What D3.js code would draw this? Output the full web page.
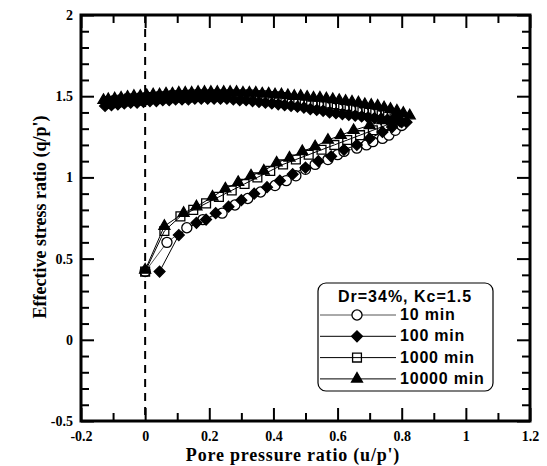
<!DOCTYPE html>
<html>
<head>
<meta charset="utf-8">
<script src="https://cdn.jsdelivr.net/npm/d3@7"></script>
<style>
  body { margin: 0; background: #fff; }
  svg { display: block; }
  .tick text { font-family: "Liberation Serif", "Times New Roman", serif; font-weight: bold; font-size: 14px; fill: #000; }
  .tick line { stroke: #000; stroke-width: 2; }
</style>
</head>
<body>
<div id="chart"></div>
<script>
// axis ticks
const xTicksMajor = [-0.2, 0, 0.2, 0.4, 0.6, 0.8, 1, 1.2];
const xTickLabels = ["-0.2", "0", "0.2", "0.4", "0.6", "0.8", "1", "1.2"];
const xTicksMinor = [-0.1, 0.1, 0.3, 0.5, 0.7, 0.9, 1.1];
const yTicksMajor = [-0.5, 0, 0.5, 1, 1.5, 2];
const yTickLabels = ["-0.5", "0", "0.5", "1", "1.5", "2"];
const yTicksMinor = [-0.4, -0.3, -0.2, -0.1, 0.1, 0.2, 0.3, 0.4, 0.6, 0.7, 0.8, 0.9,
                     1.1, 1.2, 1.3, 1.4, 1.6, 1.7, 1.8, 1.9];

// series: [u/p', q/p'] -- monotonic loading part, then the cyclic band near q/p' = 1.5
const min10 = [
  [0, 0.42], [0.068, 0.60], [0.13, 0.69], [0.18, 0.74], [0.24, 0.78], [0.28, 0.83], [0.32, 0.87],
  [0.36, 0.91], [0.405, 0.95], [0.44, 0.98], [0.47, 1.01], [0.50, 1.05], [0.53, 1.08], [0.57, 1.11],
  [0.60, 1.14], [0.62, 1.16], [0.66, 1.18], [0.69, 1.20], [0.71, 1.22], [0.74, 1.24], [0.76, 1.26],
  [0.78, 1.29], [0.80, 1.32],
  [0.80, 1.36], [0.78, 1.37], [0.76, 1.38], [0.74, 1.385], [0.72, 1.39], [0.70, 1.40], [0.68, 1.405],
  [0.66, 1.41], [0.64, 1.42], [0.62, 1.425], [0.60, 1.43], [0.58, 1.435], [0.56, 1.44], [0.54, 1.45],
  [0.52, 1.455], [0.50, 1.46], [0.48, 1.465], [0.46, 1.47], [0.44, 1.475], [0.42, 1.485], [0.40, 1.485],
  [0.38, 1.49], [0.36, 1.49], [0.34, 1.495], [0.32, 1.495], [0.30, 1.495], [0.28, 1.50], [0.26, 1.50],
  [0.24, 1.50], [0.22, 1.50], [0.20, 1.50], [0.18, 1.50], [0.16, 1.50], [0.14, 1.495], [0.12, 1.495],
  [0.10, 1.495], [0.08, 1.49], [0.06, 1.49], [0.04, 1.485], [0.02, 1.485], [0.00, 1.48], [-0.02, 1.475],
  [-0.04, 1.475], [-0.06, 1.47], [-0.08, 1.465], [-0.10, 1.46], [-0.12, 1.455]
];
const min100 = [
  [0.045, 0.42], [0.105, 0.645], [0.16, 0.72], [0.19, 0.74], [0.22, 0.78], [0.26, 0.82], [0.30, 0.86],
  [0.34, 0.90], [0.38, 0.94], [0.42, 0.98], [0.46, 1.02], [0.50, 1.06], [0.54, 1.10], [0.58, 1.13],
  [0.62, 1.17], [0.66, 1.20], [0.70, 1.24], [0.74, 1.28], [0.77, 1.31], [0.80, 1.34],
  [0.815, 1.34], [0.795, 1.345], [0.775, 1.35], [0.755, 1.355], [0.735, 1.36], [0.715, 1.365], [0.695, 1.37],
  [0.675, 1.375], [0.655, 1.38], [0.635, 1.385], [0.615, 1.39], [0.595, 1.395], [0.575, 1.40], [0.555, 1.41],
  [0.535, 1.415], [0.515, 1.42], [0.495, 1.43], [0.475, 1.435], [0.455, 1.44], [0.435, 1.445], [0.415, 1.45],
  [0.395, 1.455], [0.375, 1.46], [0.355, 1.465], [0.335, 1.47], [0.315, 1.475], [0.295, 1.475], [0.275, 1.48],
  [0.255, 1.485], [0.235, 1.485], [0.215, 1.485], [0.195, 1.485], [0.175, 1.485], [0.155, 1.485], [0.135, 1.48],
  [0.115, 1.48], [0.095, 1.48], [0.075, 1.475], [0.055, 1.475], [0.035, 1.47], [0.015, 1.47], [-0.005, 1.465],
  [-0.025, 1.46], [-0.045, 1.46], [-0.065, 1.455], [-0.085, 1.45], [-0.105, 1.445], [-0.125, 1.44]
];
const min1000 = [
  [0, 0.42], [0.06, 0.67], [0.11, 0.76], [0.15, 0.80], [0.19, 0.84], [0.23, 0.88], [0.27, 0.92],
  [0.31, 0.96], [0.35, 1.00], [0.39, 1.04], [0.43, 1.08], [0.47, 1.11], [0.51, 1.14], [0.55, 1.17],
  [0.59, 1.20], [0.63, 1.23], [0.67, 1.26], [0.71, 1.29], [0.75, 1.32], [0.78, 1.35],
  [0.79, 1.375], [0.77, 1.385], [0.75, 1.395], [0.73, 1.405], [0.71, 1.41], [0.69, 1.42], [0.67, 1.425],
  [0.65, 1.43], [0.63, 1.44], [0.61, 1.445], [0.59, 1.45], [0.57, 1.455], [0.55, 1.46], [0.53, 1.465],
  [0.51, 1.47], [0.49, 1.475], [0.47, 1.48], [0.45, 1.485], [0.43, 1.495], [0.41, 1.50], [0.39, 1.50],
  [0.37, 1.505], [0.35, 1.505], [0.33, 1.51], [0.31, 1.51], [0.29, 1.51], [0.27, 1.51], [0.25, 1.51],
  [0.23, 1.51], [0.21, 1.51], [0.19, 1.51], [0.17, 1.51], [0.15, 1.51], [0.13, 1.505], [0.11, 1.505],
  [0.09, 1.505], [0.07, 1.50], [0.05, 1.50], [0.03, 1.495], [0.01, 1.495], [-0.01, 1.49], [-0.03, 1.485],
  [-0.05, 1.485], [-0.07, 1.48], [-0.09, 1.475], [-0.11, 1.47]
];
const min10000 = [
  [0, 0.43], [0.06, 0.70], [0.12, 0.78], [0.16, 0.82], [0.21, 0.88], [0.25, 0.93], [0.29, 0.97],
  [0.33, 1.01], [0.37, 1.04], [0.41, 1.09], [0.45, 1.12], [0.49, 1.16], [0.53, 1.19], [0.57, 1.23],
  [0.61, 1.26], [0.65, 1.29], [0.70, 1.32], [0.74, 1.35], [0.78, 1.38],
  [0.825, 1.38], [0.805, 1.395], [0.785, 1.41], [0.765, 1.42], [0.745, 1.43], [0.725, 1.44], [0.705, 1.445],
  [0.685, 1.45], [0.665, 1.46], [0.645, 1.465], [0.625, 1.47], [0.605, 1.475], [0.585, 1.48], [0.565, 1.485],
  [0.545, 1.49], [0.525, 1.49], [0.505, 1.495], [0.485, 1.50], [0.465, 1.50], [0.445, 1.505], [0.425, 1.51],
  [0.405, 1.51], [0.385, 1.515], [0.365, 1.515], [0.345, 1.52], [0.325, 1.52], [0.305, 1.52], [0.285, 1.525],
  [0.265, 1.525], [0.245, 1.525], [0.225, 1.525], [0.205, 1.525], [0.185, 1.525], [0.165, 1.525], [0.145, 1.52],
  [0.125, 1.52], [0.105, 1.52], [0.085, 1.515], [0.065, 1.515], [0.045, 1.51], [0.025, 1.51], [0.005, 1.505],
  [-0.015, 1.50], [-0.035, 1.50], [-0.055, 1.495], [-0.075, 1.49], [-0.095, 1.485], [-0.115, 1.48], [-0.13, 1.475]
];

const seriesNames = ["10 min", "100 min", "1000 min", "10000 min"];
const legendTitle = "Dr=34%, Kc=1.5";

const series = [
  { name: seriesNames[0], data: min10,    symbol: d3.symbolCircle,   size: 80, fill: "#fff", line: "#555" },
  { name: seriesNames[1], data: min100,   symbol: d3.symbolDiamond2, size: 75, fill: "#000", line: "#000" },
  { name: seriesNames[2], data: min1000,  symbol: d3.symbolSquare,   size: 78, fill: "none", line: "#000" },
  { name: seriesNames[3], data: min10000, symbol: d3.symbolTriangle, size: 52, fill: "#000", line: "#000" }
];

const W = 547, H = 466;
const margin = { top: 15, right: 17, bottom: 45, left: 81 };
const width = W - margin.left - margin.right;
const height = H - margin.top - margin.bottom;

const svg = d3.select("#chart").append("svg")
    .attr("width", W)
    .attr("height", H);

const g = svg.append("g")
    .attr("transform", `translate(${margin.left},${margin.top})`);

const x = d3.scaleLinear().domain([-0.2, 1.2]).range([0, width]);
const y = d3.scaleLinear().domain([-0.5, 2]).range([height, 0]);

// dashed line at u = 0
g.append("line")
    .attr("x1", x(0)).attr("x2", x(0))
    .attr("y1", 0).attr("y2", height)
    .attr("stroke", "#000")
    .attr("stroke-width", 2)
    .attr("stroke-dasharray", "8,6");

// series lines + markers
const line = d3.line().x(d => x(d[0])).y(d => y(d[1]));

series.forEach(s => {
    g.append("path")
        .datum(s.data)
        .attr("d", line)
        .attr("fill", "none")
        .attr("stroke", s.line)
        .attr("stroke-width", 1);
});

series.forEach(s => {
    g.selectAll(null)
        .data(s.data)
        .enter().append("path")
        .attr("transform", d => `translate(${x(d[0])},${y(d[1])})`)
        .attr("d", d3.symbol().type(s.symbol).size(s.size))
        .attr("fill", s.fill)
        .attr("stroke", "#000")
        .attr("stroke-width", 1.3);
});

// axes, ticks inward on all sides
function drawAxis(axisFn, transform, major, labels, minor) {
    const ax = g.append("g").attr("transform", transform);
    ax.call(axisFn.tickValues(major)
        .tickSizeInner(-13).tickSizeOuter(0)
        .tickPadding(labels ? 10 : 0)
        .tickFormat((d, i) => labels ? labels[i] : ""));
    ax.select(".domain").remove();
    const mx = g.append("g").attr("transform", transform);
    mx.call(axisFn.tickValues(minor).tickSizeInner(-8).tickFormat(""));
    mx.select(".domain").remove();
    return ax;
}

drawAxis(d3.axisBottom(x), `translate(0,${height})`, xTicksMajor, xTickLabels, xTicksMinor);
drawAxis(d3.axisTop(x), "translate(0,0)", xTicksMajor, null, xTicksMinor);
drawAxis(d3.axisLeft(y), "translate(0,0)", yTicksMajor, yTickLabels, yTicksMinor)
    .selectAll("text").attr("dx", "2");
drawAxis(d3.axisRight(y), `translate(${width},0)`, yTicksMajor, null, yTicksMinor);

// frame
g.append("rect")
    .attr("width", width).attr("height", height)
    .attr("fill", "none")
    .attr("stroke", "#000")
    .attr("stroke-width", 3);

// axis titles
svg.append("text")
    .attr("x", 293).attr("y", 461)
    .attr("text-anchor", "middle")
    .style("font-family", "'Liberation Serif', serif")
    .style("font-weight", "bold")
    .style("font-size", "18px")
    .style("letter-spacing", "0.8px")
    .text("Pore pressure ratio (u/p')");

svg.append("text")
    .attr("transform", "translate(46,217) rotate(-90)")
    .attr("text-anchor", "middle")
    .style("font-family", "'Liberation Serif', serif")
    .style("font-weight", "bold")
    .style("font-size", "18px")
    .text("Effective stress ratio (q/p')");

// legend
const lg = svg.append("g").attr("transform", "translate(318,283)");
lg.append("rect")
    .attr("width", 175).attr("height", 108)
    .attr("rx", 8)
    .attr("fill", "#fff")
    .attr("stroke", "#000")
    .attr("stroke-width", 1.2);

lg.append("text")
    .attr("x", 87).attr("y", 19)
    .attr("text-anchor", "middle")
    .style("font-family", "'Liberation Sans', Arial, sans-serif")
    .style("font-weight", "bold")
    .style("font-size", "16px")
    .style("letter-spacing", "1px")
    .text(legendTitle);

series.forEach((s, i) => {
    const ry = 32 + i * 21.3;
    lg.append("line")
        .attr("x1", 2).attr("x2", 78)
        .attr("y1", ry).attr("y2", ry)
        .attr("stroke", s.line)
        .attr("stroke-width", 1);
    lg.append("path")
        .attr("transform", `translate(39,${ry})`)
        .attr("d", d3.symbol().type(s.symbol).size(s.size))
        .attr("fill", s.fill)
        .attr("stroke", "#000")
        .attr("stroke-width", 1.3);
    lg.append("text")
        .attr("x", 82).attr("y", ry + 5)
        .style("font-family", "'Liberation Sans', Arial, sans-serif")
        .style("font-weight", "bold")
        .style("font-size", "16px")
        .style("letter-spacing", "0.8px")
        .text(s.name);
});
</script>
</body>
</html>
